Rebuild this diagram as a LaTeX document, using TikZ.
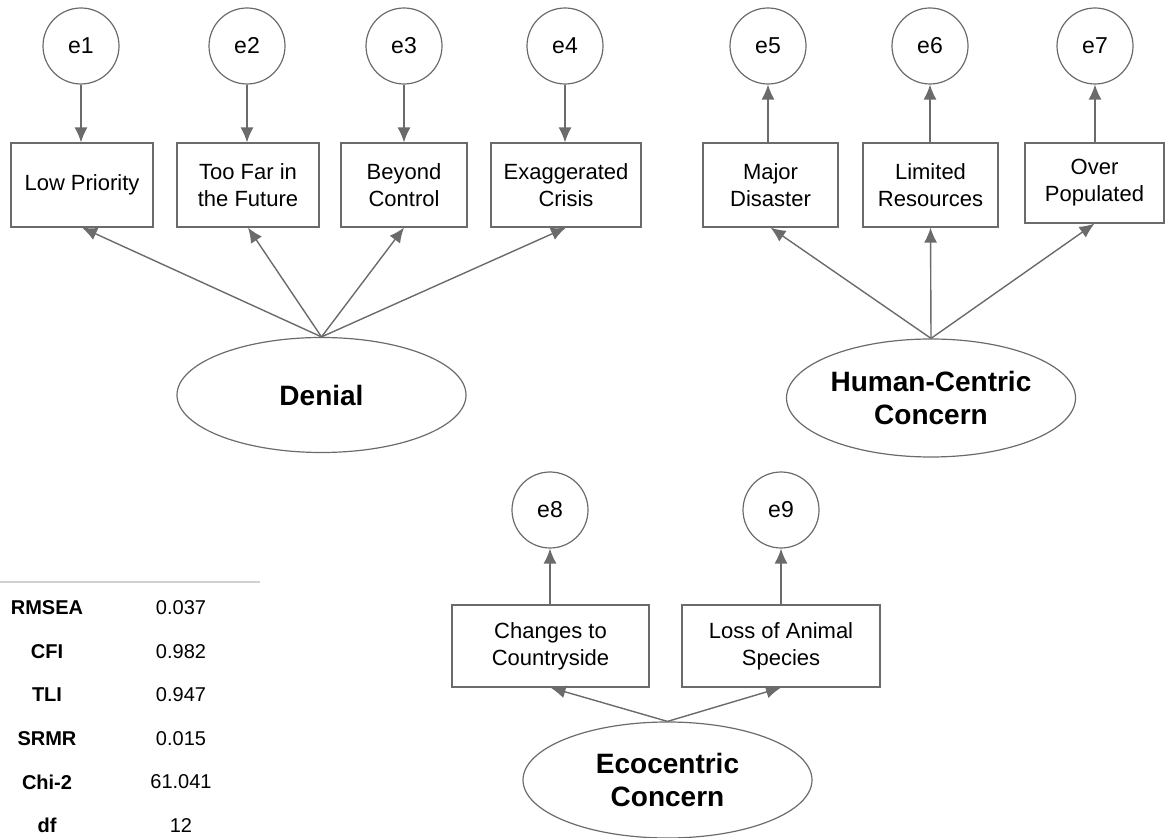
\documentclass[tikz,border=0pt]{standalone}
\usepackage{fontspec}
\setmainfont{Liberation Sans}
\usetikzlibrary{arrows.meta,shapes.geometric}
\definecolor{edge}{HTML}{6B6B6B}
\begin{document}
\begin{tikzpicture}[x=.5pt, y=-.5pt, >={Latex[length=7.5pt,width=6.5pt]},
  err/.style={circle, draw=edge, line width=.6pt, minimum size=38pt, inner sep=0pt, font=\fontsize{11.5}{13}\selectfont},
  item/.style={rectangle, draw=edge, line width=.6pt, minimum height=42pt, inner sep=0pt, align=center, font=\fontsize{11}{13.5}\selectfont},
  latent/.style={ellipse, draw=edge, line width=.6pt, minimum width=144.5pt, minimum height=57.5pt, inner sep=0pt, align=center, font=\fontsize{14}{16.5}\selectfont\bfseries},
  link/.style={->, draw=edge, fill=edge, line width=.7pt},
  stat/.style={font=\fontsize{10}{12}\selectfont\bfseries},
  val/.style={font=\fontsize{10}{12}\selectfont}]
\useasboundingbox (0,0) rectangle (1165,838);
% error terms
\node[err] (e1) at (81,46) {e1};
\node[err] (e2) at (247,46) {e2};
\node[err] (e3) at (404,46) {e3};
\node[err] (e4) at (565,46) {e4};
\node[err] (e5) at (768,46) {e5};
\node[err] (e6) at (930,46) {e6};
\node[err] (e7) at (1095,46) {e7};
\node[err] (e8) at (550,510) {e8};
\node[err] (e9) at (781,510) {e9};
% observed items
\node[item, minimum width=71pt] (lp) at (82,185) {Low Priority};
\node[item, minimum width=71pt] (tf) at (248,185) {Too Far in\\the Future};
\node[item, minimum width=63pt] (bc) at (404,185) {Beyond\\Control};
\node[item, minimum width=75pt] (ec) at (566,185) {Exaggerated\\Crisis};
\node[item, minimum width=67.5pt] (md) at (770.5,185) {Major\\Disaster};
\node[item, minimum width=67.5pt] (lr) at (930.5,185) {Limited\\Resources};
\node[item, minimum width=69.5pt, minimum height=40pt] (op) at (1094.5,183) {Over\\Populated};
\node[item, minimum width=98.5pt, minimum height=41pt] (cc) at (550.5,646) {Changes to\\Countryside};
\node[item, minimum width=99pt, minimum height=41pt] (la) at (781,646) {Loss of Animal\\Species};
% latent factors
\node[latent] (den) at (321.5,395) {Denial};
\node[latent, minimum height=59pt] (hum) at (931,398) {Human-Centric\\Concern};
\node[latent, minimum height=58pt] (eco) at (667.5,780) {Ecocentric\\Concern};
% loadings
\foreach \b in {lp,tf,bc,ec} \draw[link] (den.north) -- (\b.south);
\foreach \b in {md,lr,op} \draw[link] (hum.north) -- (\b.south);
\foreach \b in {cc,la} \draw[link] (eco.north) -- (\b.south);
% residuals
\draw[link] (e1) -- (e1 |- lp.north);
\draw[link] (e2) -- (e2 |- tf.north);
\draw[link] (e3) -- (e3 |- bc.north);
\draw[link] (e4) -- (e4 |- ec.north);
\draw[link] (e5 |- md.north) -- (e5);
\draw[link] (e6 |- lr.north) -- (e6);
\draw[link] (e7 |- op.north) -- (e7);
\draw[link] (e8 |- cc.north) -- (e8);
\draw[link] (e9 |- la.north) -- (e9);
% fit indices
\draw[black!18, line width=.7pt] (0,582) -- (260,582);
\foreach \lab/\v [count=\i] in {RMSEA/0.037, CFI/0.982, TLI/0.947, SRMR/0.015, Chi-2/61.041, df/12} {
  \node[stat] (s\i) at (47,{608+43.5*(\i-1)}) {\lab};
  \node[val] (v\i) at (181,{608+43.5*(\i-1)}) {\v};
}
\end{tikzpicture}
\end{document}
